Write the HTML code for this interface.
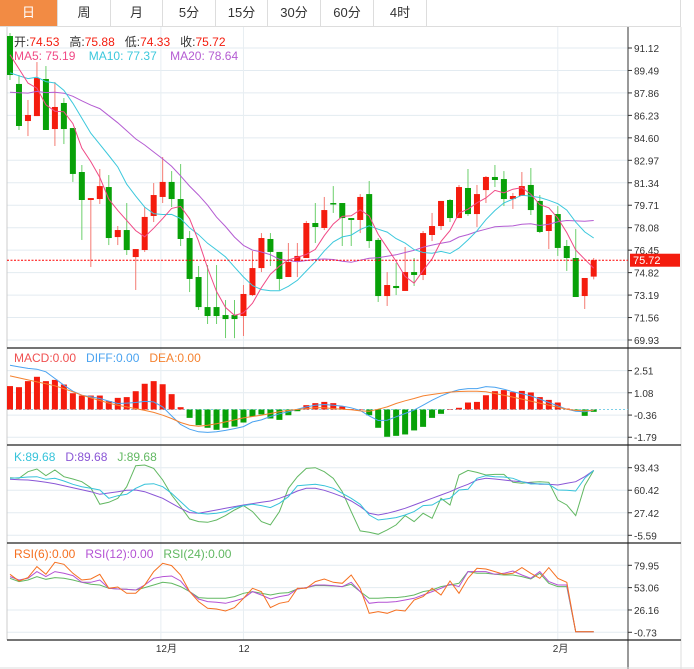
<!DOCTYPE html>
<html><head><meta charset="utf-8">
<style>
body{margin:0;background:#fff;width:694px;height:669px;overflow:hidden;font-family:"Liberation Sans","Noto Sans CJK SC",sans-serif;}
#tabs{position:absolute;left:0;top:0;width:680px;height:26px;border-bottom:1px solid #ddd;border-right:1px solid #ddd;}
.tab{position:absolute;top:0;height:26px;line-height:26px;text-align:center;font-size:13px;color:#333;border-right:1px solid #ddd;box-sizing:border-box;}
.tab.on{background:#f28b44;color:#fff;}
svg{position:absolute;left:0;top:0;}
svg text{white-space:pre;}
</style></head><body>
<div id="tabs">
<div class="tab on" style="left:0;width:58px">日</div>
<div class="tab" style="left:58px;width:53px">周</div>
<div class="tab" style="left:111px;width:52px">月</div>
<div class="tab" style="left:163px;width:53px">5分</div>
<div class="tab" style="left:216px;width:52px">15分</div>
<div class="tab" style="left:268px;width:53px">30分</div>
<div class="tab" style="left:321px;width:53px">60分</div>
<div class="tab" style="left:374px;width:53px">4时</div>
</div>
<svg id="chart" width="694" height="669"></svg>
<script>
const opens=[91.99,88.51,85.82,86.18,88.87,85.24,87.13,85.31,82.12,80.09,80.16,81.03,77.40,77.91,75.95,76.46,78.93,80.31,81.40,80.16,77.33,74.50,72.32,72.32,71.74,71.74,71.67,73.19,75.15,77.26,76.32,74.50,75.66,75.88,78.42,78.06,79.87,79.87,78.78,78.64,80.52,77.19,73.12,73.85,73.49,74.86,74.65,77.55,78.20,80.09,78.78,80.96,79.07,80.81,81.76,81.61,80.16,80.38,81.18,80.02,77.84,79.07,76.75,75.88,73.12,74.53];
const highs=[92.21,89.16,87.35,90.10,89.81,88.65,87.49,85.31,82.63,80.23,82.34,81.90,78.20,79.87,76.53,79.58,81.32,83.21,82.19,82.70,77.84,75.30,75.37,75.37,72.83,72.83,73.92,76.39,77.69,77.69,76.32,76.97,76.97,78.57,79.87,80.31,81.10,79.87,78.78,80.52,81.47,77.33,74.86,75.52,76.68,75.88,77.84,79.15,80.02,80.16,81.18,82.34,81.18,81.83,82.63,82.19,80.60,82.12,82.41,80.45,79.00,79.65,77.19,77.98,74.43,75.88];
const lows=[88.80,85.17,84.73,86.18,85.17,84.01,84.15,81.40,77.19,75.23,79.80,76.82,76.82,76.10,73.56,76.32,78.49,79.87,79.58,76.75,73.41,72.11,71.09,71.09,70.07,70.07,70.22,73.12,74.86,75.30,73.56,74.50,74.50,75.88,76.97,77.91,79.15,76.75,76.75,77.69,76.61,72.69,72.40,73.19,73.49,73.85,74.28,77.11,77.91,78.49,78.78,78.93,78.13,79.87,81.03,79.65,79.44,80.38,79.00,77.69,76.53,76.03,74.94,73.05,72.18,74.33];
const closes=[89.16,85.46,86.26,88.94,85.17,86.84,85.24,81.98,80.09,80.23,81.10,77.33,77.91,76.46,76.53,78.86,80.45,81.40,80.16,77.26,74.36,72.32,71.67,71.67,71.45,71.45,73.27,75.15,77.33,76.32,74.36,75.59,76.03,78.42,78.13,79.36,79.80,78.78,78.64,80.31,77.11,73.12,73.92,73.70,74.86,74.65,77.69,78.20,80.02,78.78,81.03,79.07,80.52,81.76,81.54,80.16,80.38,81.10,79.36,77.77,79.00,76.61,75.88,73.05,74.43,75.72];
const priorCloses=[86.2,86.8,86.4,86.9,86.3,86.7,86.5,86.6,86.4,86.2,87.6,88.3,87.9,88.4,87.8,90.6,91.4,90.8,91.2];
const priceTicks=[91.12,89.49,87.86,86.23,84.60,82.97,81.34,79.71,78.08,76.45,74.82,73.19,71.56,69.93];
const macdHist=[1.51,1.44,1.83,2.11,1.83,1.91,1.61,1.05,0.90,0.90,0.90,0.54,0.75,0.80,1.18,1.66,1.83,1.63,0.99,0.15,-0.54,-1.01,-1.18,-1.31,-1.18,-1.10,-0.84,-0.45,-0.32,-0.58,-0.67,-0.37,-0.11,0.28,0.41,0.49,0.41,0.19,0.02,0,-0.37,-1.18,-1.76,-1.70,-1.61,-1.35,-1.12,-0.54,-0.28,0,0.11,0.45,0.49,0.92,1.18,1.25,1.12,1.20,1.10,0.80,0.62,0.45,0.06,-0.02,-0.41,-0.15];
const diffLine=[2.86,2.75,2.65,2.60,2.43,2.00,1.57,1.18,0.92,0.82,0.71,0.54,0.39,0.41,0.45,0.52,0.49,0.17,-0.41,-0.97,-1.27,-1.44,-1.48,-1.44,-1.35,-1.23,-1.10,-0.80,-0.67,-0.45,-0.28,-0.15,0.02,0.17,0.28,0.32,0.28,0.22,0.11,-0.06,-0.41,-0.71,-0.69,-0.47,-0.26,-0.04,0.28,0.60,0.88,1.10,1.27,1.35,1.35,1.48,1.44,1.31,1.14,1.01,0.88,0.67,0.45,0.24,0.02,-0.11,-0.15,-0.04];
const deaLine=[2.17,2.04,1.91,1.78,1.66,1.53,1.35,1.14,0.92,0.75,0.58,0.41,0.28,0.17,0.06,-0.06,-0.19,-0.37,-0.58,-0.84,-1.01,-1.08,-1.01,-0.92,-0.80,-0.67,-0.54,-0.45,-0.37,-0.26,-0.15,-0.06,0,0.06,0.11,0.11,0.06,0.02,-0.02,-0.09,-0.11,0.02,0.17,0.39,0.56,0.71,0.88,0.97,1.05,1.12,1.16,1.18,1.18,1.14,1.03,0.92,0.80,0.67,0.54,0.41,0.28,0.15,0.02,-0.06,-0.09,-0.04];
const macdTicks=[2.51,1.08,-0.36,-1.79];
const kLine=[77.83,78.81,79.78,80.27,76.37,77.83,73.93,69.06,65.64,63.21,60.77,48.58,52.48,54.43,63.21,69.06,70.03,65.64,55.89,43.71,31.52,26.64,25.67,26.64,29.08,34.93,37.86,39.81,37.86,34.93,41.27,51.02,67.11,68.08,69.06,67.11,63.21,55.89,48.58,39.81,24.20,16.89,18.36,20.31,24.20,29.08,37.86,38.83,46.14,48.58,60.77,61.74,77.83,81.73,80.27,79.78,77.83,72.96,69.54,70.03,69.06,60.77,60.28,59.31,77.83,89.53];
const dLine=[76.37,75.88,75.39,73.93,71.98,70.03,67.11,64.18,61.26,58.33,54.43,56.38,58.33,60.28,60.77,58.33,53.46,48.58,41.27,33.96,27.62,26.64,29.08,31.52,33.96,36.39,38.83,40.78,42.73,44.68,48.58,53.46,59.31,63.21,63.21,60.28,55.89,51.02,44.68,36.39,26.64,24.20,26.64,30.06,33.96,38.83,43.71,48.58,53.46,58.33,64.18,69.06,75.39,77.83,76.86,75.39,73.93,72.96,71.01,69.06,69.06,68.08,70.52,72.96,80.27,89.53];
const jLine=[78.81,77.83,87.58,91.48,81.73,90.02,80.27,76.86,72.96,64.18,39.81,42.73,48.58,65.64,96.36,97.33,92.46,75.39,53.46,36.39,18.36,14.46,13.48,16.89,23.23,31.52,37.86,29.08,14.46,9.58,29.08,63.21,80.27,92.46,93.43,87.58,77.83,58.33,29.08,0.81,-1.15,-4.07,2.27,9.58,23.23,14.46,26.64,19.33,48.58,38.83,82.71,89.53,86.61,82.71,83.68,83.68,71.98,70.52,71.98,72.96,71.98,46.14,38.83,23.23,67.11,89.53];
const kdjTicks=[93.43,60.42,27.42,-5.59];
const rsi6=[69.11,61.08,65.09,78.34,69.11,83.56,81.15,70.31,62.28,63.49,69.11,52.25,53.85,46.22,46.22,56.26,72.32,82.36,79.55,68.30,48.23,36.18,28.16,27.35,24.95,28.96,40.20,52.25,48.23,28.96,34.18,36.18,52.25,52.25,60.27,63.49,59.47,58.27,68.30,52.25,22.14,24.14,22.14,26.15,24.95,38.19,42.21,52.25,44.22,61.08,46.22,64.29,76.33,75.53,72.32,69.11,70.31,77.14,70.31,64.29,77.14,64.29,59.47,0,0,0];
const rsi12=[66.30,62.28,64.29,72.32,66.30,72.32,70.31,67.50,59.47,59.47,62.28,52.25,51.44,51.04,50.24,56.26,64.29,66.30,67.10,61.08,48.23,39.40,36.18,35.38,34.18,37.00,40.20,48.23,44.22,39.40,42.21,44.22,51.44,53.05,56.26,56.26,55.46,54.25,59.47,48.23,34.18,35.38,35.38,36.18,38.19,40.20,44.22,48.23,52.25,57.06,54.25,72.32,72.32,72.32,69.11,70.31,73.12,68.30,64.29,72.32,60.27,56.26,56.26,0,0,0];
const rsi24=[64.29,60.27,62.28,66.30,63.09,65.09,64.29,62.28,59.47,57.06,56.26,52.25,51.44,51.04,50.24,53.05,56.26,59.47,58.27,54.25,48.23,41.00,40.20,40.20,40.20,42.21,46.22,48.23,46.22,44.22,46.22,47.03,51.44,53.05,55.46,55.46,55.06,54.25,57.06,48.23,40.20,40.20,41.00,41.00,42.21,44.22,48.23,50.24,54.25,56.26,58.27,72.32,70.31,70.31,69.11,68.30,68.30,66.30,63.49,70.31,58.27,54.25,54.25,0,0,0];
const rsiTicks=[79.95,53.06,26.16,-0.73];
const dateLabels=[{i:16.8,t:"12月"},{i:26,t:"12"},{i:61,t:"2月"}];

const svg=document.getElementById('chart');
const NS='http://www.w3.org/2000/svg';
function mk(tag,attrs,parent){const e=document.createElementNS(NS,tag);for(const k in attrs)e.setAttribute(k,attrs[k]);(parent||svg).appendChild(e);return e;}
const L=7,R=628,RB=681;
const xAt=i=>10+i*8.98;
const yP=p=>48+(91.12-p)*13.78;
const yM=v=>409.5-v*15.5;
const yK=v=>467.7+(93.43-v)*(67.6/99.02);
const yR=v=>565.3+(79.95-v)*(67/80.68);

const grid=mk('g',{});


function hgrid(y){mk('line',{x1:L,x2:R,y1:y,y2:y,stroke:'#e3ebf1','stroke-width':1},grid);}
priceTicks.forEach(t=>hgrid(yP(t)));
macdTicks.forEach(t=>hgrid(yM(t)));
kdjTicks.forEach(t=>hgrid(yK(t)));
rsiTicks.forEach(t=>hgrid(yR(t)));
dateLabels.forEach(d=>{mk('line',{x1:xAt(d.i),x2:xAt(d.i),y1:27,y2:640,stroke:'#e8eef2'},grid);});

const fr=mk('g',{});


mk('line',{x1:L,x2:L,y1:27,y2:640,stroke:'#ccc'},fr);
mk('line',{x1:RB,x2:RB,y1:27,y2:669,stroke:'#ddd'},fr);
mk('line',{x1:R,x2:R,y1:27,y2:669,stroke:'#333'},fr);
[348,445,543,640].forEach(y=>mk('line',{x1:L,x2:RB,y1:y,y2:y,stroke:'#222','stroke-width':1.3},fr));
mk('line',{x1:0,x2:694,y1:668,y2:668,stroke:'#ddd'},fr);

function axis(ticks,fy,name){const g=mk('g',{});
 ticks.forEach(t=>{const y=fy(t);mk('line',{x1:R,x2:R+4,y1:y,y2:y,stroke:'#333'},g);
 const tx=mk('text',{x:R+6,y:y+4,'font-size':10,fill:'#333'},g);tx.textContent=t.toFixed(2);});}
axis(priceTicks,yP,'price-axis');axis(macdTicks,yM,'macd-axis');axis(kdjTicks,yK,'kdj-axis');axis(rsiTicks,yR,'rsi-axis');
dateLabels.forEach(d=>{const t=mk('text',{x:xAt(d.i)-5,y:652,'font-size':10,fill:'#333'});t.textContent=d.t;

});

const cg=mk('g',{});


closes.forEach((c,i)=>{const o=opens[i],up=c>=o,col=up?'#f41c0e':'#08a108',wc=up?'#f47a72':'#6ccf6c';
 const x=xAt(i);
 mk('line',{x1:x,x2:x,y1:yP(highs[i]),y2:yP(lows[i]),stroke:wc,'stroke-width':1},cg);
 const t=yP(Math.max(o,c)),b=yP(Math.min(o,c));
 const r=mk('rect',{x:x-3,y:t,width:6,height:Math.max(1.5,b-t),fill:col},cg);
 
 });

const all=priorCloses.concat(closes);
function ma(n){return closes.map((c,i)=>{const j=i+priorCloses.length;let s=0;for(let k=j-n+1;k<=j;k++)s+=all[k];return s/n;});}
function poly(vals,fy,color,name,w){const pts=vals.map((v,i)=>xAt(i).toFixed(1)+','+fy(v).toFixed(1)).join(' ');
 const p=mk('polyline',{points:pts,fill:'none',stroke:color,'stroke-width':w||1});
 
 }
poly(ma(20),yP,'#b45cd2','ma20-line');
poly(ma(10),yP,'#3cc8dc','ma10-line');
poly(ma(5),yP,'#f04a86','ma5-line');

mk('line',{x1:L,x2:R,y1:yP(closes[65]),y2:yP(closes[65]),stroke:'#f00','stroke-dasharray':'2,1.5'});
const lb=mk('rect',{x:R+2,y:yP(closes[65])-6.5,width:50,height:13,fill:'#f41c0e'});


const lt=mk('text',{x:R+5,y:yP(closes[65])+4,'font-size':11,fill:'#fff'});lt.textContent=closes[65].toFixed(2);

mk('line',{x1:L,x2:R,y1:yM(0),y2:yM(0),stroke:'#7fd0e8','stroke-dasharray':'2,2'});
macdHist.forEach((v,i)=>{const y0=yM(0),y1=yM(v);
 const r=mk('rect',{x:xAt(i)-3,y:Math.min(y0,y1),width:6,height:Math.max(0.5,Math.abs(y1-y0)),fill:v>=0?'#f41c0e':'#08a108'});
 
 });
poly(diffLine,yM,'#4aa3f0','diff-line');
poly(deaLine,yM,'#f58230','dea-line');

poly(jLine,yK,'#62b862','j-line');
poly(dLine,yK,'#8a56d6','d-line');
poly(kLine,yK,'#36c3da','k-line');

poly(rsi24,yR,'#62b862','rsi24-line');
poly(rsi12,yR,'#b452d4','rsi12-line');
poly(rsi6,yR,'#f57020','rsi6-line');

function legend(y,items,name){const t=mk('text',{x:14,y:y,'font-size':12});
 t.setAttribute('xml:space','preserve');
 items.forEach(it=>{const s=mk('tspan',{fill:it[1]},t);s.textContent=it[0];});}
legend(46,[['开:','#333'],['74.53   ','#f41c0e'],['高:','#333'],['75.88   ','#f41c0e'],['低:','#333'],['74.33   ','#f41c0e'],['收:','#333'],['75.72','#f41c0e']],'ohlc-legend');
legend(60,[['MA5: 75.19    ','#f04a86'],['MA10: 77.37    ','#3cc8dc'],['MA20: 78.64','#b45cd2']],'ma-legend');
legend(362,[['MACD:0.00   ','#f05050'],['DIFF:0.00   ','#4aa3f0'],['DEA:0.00','#f58230']],'macd-legend');
legend(461,[['K:89.68   ','#36c3da'],['D:89.68   ','#8a56d6'],['J:89.68','#62b862']],'kdj-legend');
legend(558,[['RSI(6):0.00   ','#f57020'],['RSI(12):0.00   ','#b452d4'],['RSI(24):0.00','#62b862']],'rsi-legend');
svg.querySelectorAll('text').forEach(t=>t.setAttribute('font-family','"Liberation Sans","Noto Sans CJK SC",sans-serif'));
</script>
</body></html>
